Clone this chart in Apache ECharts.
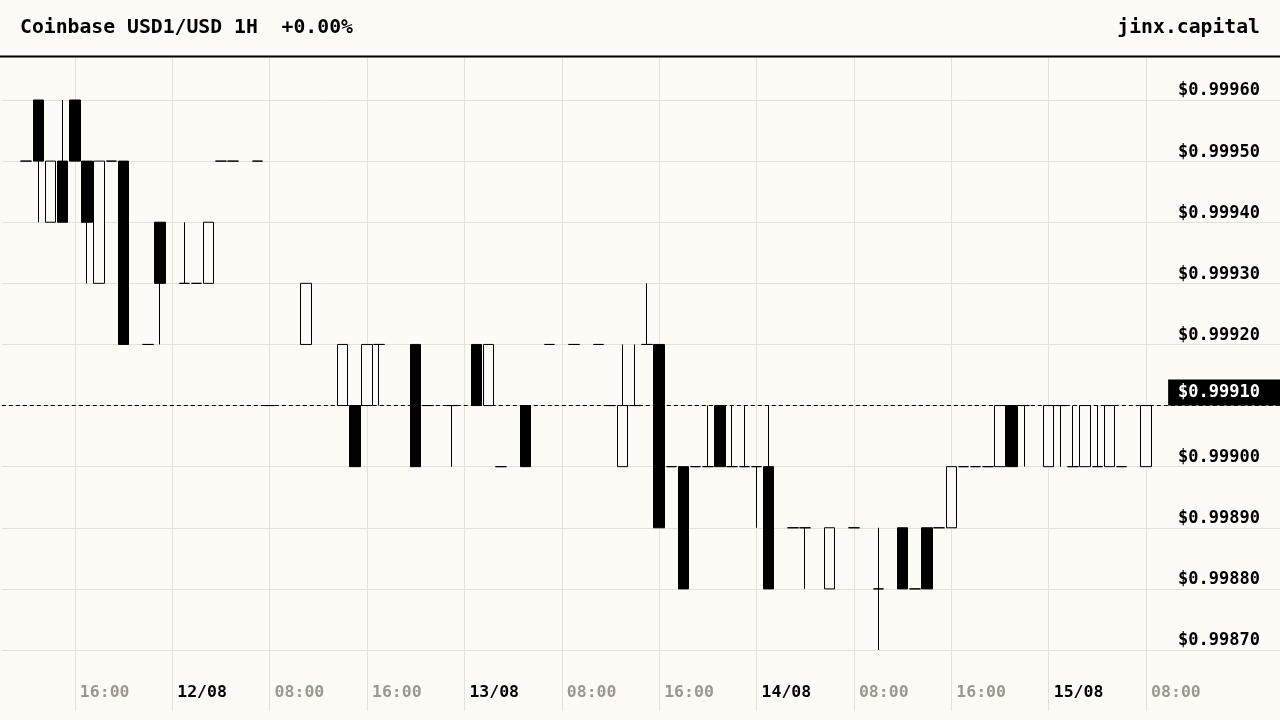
<!DOCTYPE html>
<html>
<head>
<meta charset="utf-8">
<script src="https://cdn.jsdelivr.net/npm/echarts@6/dist/echarts.min.js"></script>
<style>
  html, body { margin: 0; padding: 0; background: #fdfbf6; }
  #chart { width: 1280px; height: 720px; }
</style>
</head>
<body>
<div id="chart"></div>
<script>
// hour offsets counted from 11/08 00:00 (only hours that had trades)
var hours = [12,13,14,15,16,17,18,19,20,22,23,25,26,27,28,29,31,32,35,38,39,40,41,44,45,47,49,50,51,53,55,57,
  59,60,61,62,63,64,65,66,67,68,69,70,71,72,73,75,76,78,80,82,84,85,86,87,88,89,90,91,92,93,94,
  96,97,98,99,100,101,102,104];
var opens = [0.99950,0.99960,0.99940,0.99950,0.99960,0.99950,0.99930,0.99950,0.99950,0.99920,0.99940,0.99930,0.99930,0.99930,0.99950,0.99950,0.99950,0.99910,0.99920,0.99910,0.99910,0.99910,0.99920,0.99920,0.99910,0.99910,0.99920,0.99910,0.99900,0.99910,0.99920,0.99920,
  0.99920,0.99910,0.99900,0.99910,0.99920,0.99920,0.99900,0.99900,0.99900,0.99900,0.99910,0.99900,0.99900,0.99900,0.99900,0.99890,0.99890,0.99880,0.99890,0.99880,0.99890,0.99880,0.99890,0.99890,0.99890,0.99900,0.99900,0.99900,0.99900,0.99910,0.99910,
  0.99900,0.99910,0.99900,0.99900,0.99900,0.99900,0.99900,0.99900];
var closes = [0.99950,0.99950,0.99950,0.99940,0.99950,0.99940,0.99950,0.99950,0.99920,0.99920,0.99930,0.99930,0.99930,0.99940,0.99950,0.99950,0.99950,0.99910,0.99930,0.99920,0.99900,0.99920,0.99920,0.99900,0.99910,0.99910,0.99910,0.99920,0.99900,0.99900,0.99920,0.99920,
  0.99920,0.99910,0.99910,0.99910,0.99920,0.99890,0.99900,0.99880,0.99900,0.99900,0.99900,0.99900,0.99900,0.99900,0.99880,0.99890,0.99890,0.99890,0.99890,0.99880,0.99880,0.99880,0.99880,0.99890,0.99900,0.99900,0.99900,0.99900,0.99910,0.99900,0.99910,
  0.99910,0.99910,0.99900,0.99910,0.99900,0.99910,0.99900,0.99910];
var lows = [0.99950,0.99940,0.99940,0.99940,0.99950,0.99930,0.99930,0.99950,0.99920,0.99920,0.99920,0.99930,0.99930,0.99930,0.99950,0.99950,0.99950,0.99910,0.99920,0.99910,0.99900,0.99910,0.99910,0.99900,0.99910,0.99900,0.99910,0.99910,0.99900,0.99900,0.99920,0.99920,
  0.99920,0.99910,0.99900,0.99910,0.99920,0.99890,0.99900,0.99880,0.99900,0.99900,0.99900,0.99900,0.99900,0.99890,0.99880,0.99890,0.99880,0.99880,0.99890,0.99870,0.99880,0.99880,0.99880,0.99890,0.99890,0.99900,0.99900,0.99900,0.99900,0.99900,0.99900,
  0.99900,0.99900,0.99900,0.99900,0.99900,0.99900,0.99900,0.99900];
var highs = [0.99950,0.99960,0.99950,0.99960,0.99960,0.99950,0.99950,0.99950,0.99950,0.99920,0.99940,0.99940,0.99930,0.99940,0.99950,0.99950,0.99950,0.99910,0.99930,0.99920,0.99910,0.99920,0.99920,0.99920,0.99910,0.99910,0.99920,0.99920,0.99900,0.99910,0.99920,0.99920,
  0.99920,0.99910,0.99920,0.99920,0.99930,0.99920,0.99900,0.99900,0.99900,0.99910,0.99910,0.99910,0.99910,0.99900,0.99910,0.99890,0.99890,0.99890,0.99890,0.99890,0.99890,0.99880,0.99890,0.99890,0.99900,0.99900,0.99900,0.99900,0.99910,0.99910,0.99910,
  0.99910,0.99910,0.99910,0.99910,0.99910,0.99910,0.99900,0.99910];
var lastPrice = 0.99910;

var BG = '#fdfbf6';
var MONO = '"DejaVu Sans Mono", monospace';

// axis runs hourly from 11/08 10:00 to 15/08 19:00
var axisHours = [];
for (var h = 10; h <= 115; h++) axisHours.push(String(h));
var candleData = axisHours.map(function (v) {
  var k = hours.indexOf(+v);
  return k < 0 ? ['-', '-', '-', '-'] : [opens[k], closes[k], lows[k], highs[k]];
});

function shownHour(index, value) {
  var hr = +value;
  return hr % 8 === 0 && hr <= 104;
}

var dom = document.getElementById('chart');
var myChart = echarts.init(dom);
var option = {
  backgroundColor: BG,
  animation: false,
  grid: { left: 1.8, right: -2.1, top: 38.9, bottom: 8.9 },
  xAxis: {
    type: 'category',
    data: axisHours,
    boundaryGap: false,
    axisLine: { show: false },
    axisTick: { show: false },
    splitLine: { show: true, interval: shownHour, lineStyle: { color: '#e4e0da', width: 1 } },
    axisLabel: {
      inside: true,
      interval: shownHour,
      margin: 18,
      align: 'left',
      verticalAlign: 'middle',
      padding: [0, 0, 0, 5],
      formatter: function (v) {
        var hr = +v, day = 11 + Math.floor(hr / 24), hh = hr % 24;
        if (hh === 0) return '{d|' + day + '/08}';
        return '{t|' + (hh < 10 ? '0' : '') + hh + ':00}';
      },
      rich: {
        d: { color: '#000', fontWeight: 'bold', fontFamily: MONO, fontSize: 16.5 },
        t: { color: '#9c978f', fontWeight: 'bold', fontFamily: MONO, fontSize: 16.5 }
      }
    }
  },
  yAxis: {
    type: 'value',
    position: 'right',
    min: 0.9986,
    max: 0.9997,
    interval: 0.0001,
    axisLine: { show: false },
    axisTick: { show: false },
    splitLine: { show: true, showMinLine: false, showMaxLine: false, lineStyle: { color: '#e4e0da', width: 1 } },
    axisLabel: {
      inside: true,
      margin: 20,
      showMinLabel: false,
      showMaxLabel: false,
      verticalAlign: 'bottom',
      lineHeight: 18,
      color: '#000',
      fontWeight: 'bold',
      fontFamily: MONO,
      fontSize: 17,
      formatter: function (v) { return '$' + v.toFixed(5); }
    }
  },
  series: [{
    type: 'candlestick',
    data: candleData,
    barWidth: 11,
    itemStyle: {
      color: BG,
      color0: '#000',
      borderColor: '#000',
      borderColor0: '#000',
      borderColorDoji: '#000',
      borderWidth: 1
    },
    markLine: {
      silent: true,
      symbol: 'none',
      precision: 5,
      animation: false,
      lineStyle: { color: '#000', width: 1, type: [4, 3] },
      label: {
        position: 'insideEndTop',
        distance: 0,
        formatter: '$' + lastPrice.toFixed(5),
        backgroundColor: '#000',
        color: '#fff',
        fontWeight: 'bold',
        fontFamily: MONO,
        fontSize: 17,
        lineHeight: 18,
        padding: [4, 20, 4, 10]
      },
      emphasis: { disabled: true },
      data: [{ yAxis: lastPrice }]
    }
  }],
  graphic: [
    { type: 'rect', z: 100, shape: { x: 0, y: 0, width: 1280, height: 56 }, style: { fill: BG } },
    { type: 'line', z: 101, shape: { x1: 0, y1: 56.5, x2: 1280, y2: 56.5 }, style: { stroke: '#000', lineWidth: 2 } },
    { type: 'text', z: 101, x: 20, y: 28,
      style: { text: 'Coinbase USD1/USD 1H  +0.00%', font: 'bold 19.75px ' + MONO, fill: '#000', align: 'left', verticalAlign: 'middle' } },
    { type: 'text', z: 101, x: 1260, y: 28,
      style: { text: 'jinx.capital', font: 'bold 19.75px ' + MONO, fill: '#000', align: 'right', verticalAlign: 'middle' } }
  ]
};
if (option && typeof option === "object") {
  myChart.setOption(option, true);
}
</script>
</body>
</html>
